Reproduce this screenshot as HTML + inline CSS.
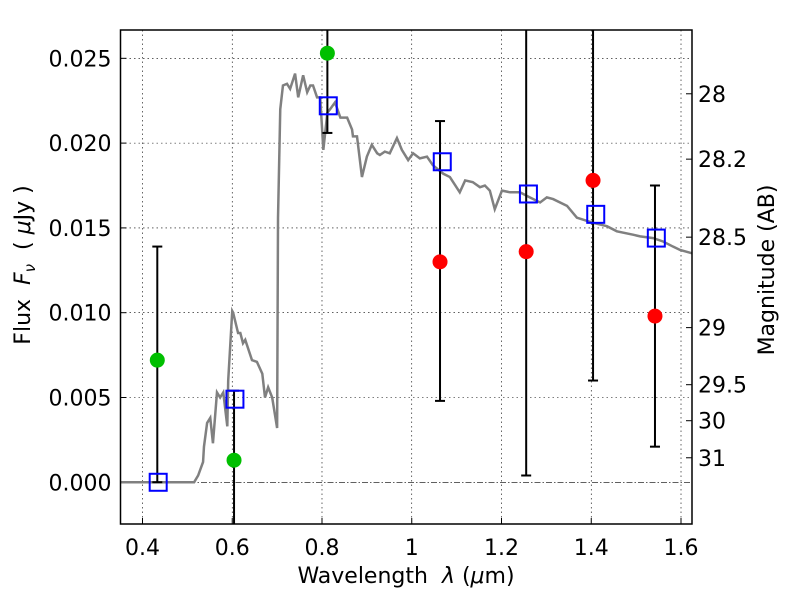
<!DOCTYPE html>
<html><head><meta charset="utf-8"><style>
body{margin:0;background:#fff}
svg text{font-family:"DejaVu Sans","Liberation Sans",sans-serif;fill:#000;white-space:pre}
</style></head><body>
<svg id="c" width="800" height="600" xmlns="http://www.w3.org/2000/svg"></svg>
<script>
const xTicks=[0.4,0.6,0.8,1.0,1.2,1.4,1.6];
const xTickLabels=["0.4","0.6","0.8","1","1.2","1.4","1.6"];
const yTicks=[0,0.005,0.01,0.015,0.02,0.025];
const yTickLabels=["0.000","0.005","0.010","0.015","0.020","0.025"];
const magTicks=[28,28.2,28.5,29,29.5,30,31];
const magTickLabels=["28","28.2","28.5","29","29.5","30","31"];
const specWave=[0.352,0.515,0.524,0.535,0.537,0.544,0.551,0.557,0.566,0.573,0.580,0.589,0.591,0.600,0.602,0.613,0.618,0.624,0.629,0.644,0.655,0.667,0.673,0.680,0.689,0.700,0.702,0.707,0.713,0.722,0.729,0.740,0.747,0.758,0.767,0.774,0.780,0.789,0.796,0.803,0.812,0.818,0.829,0.841,0.856,0.867,0.869,0.878,0.889,0.900,0.911,0.923,0.929,0.940,0.951,0.967,0.978,0.992,1.003,1.018,1.034,1.047,1.070,1.085,1.107,1.119,1.136,1.152,1.163,1.174,1.185,1.201,1.219,1.241,1.263,1.286,1.301,1.315,1.346,1.368,1.404,1.435,1.457,1.493,1.509,1.538,1.560,1.582,1.598,1.625];
const specFlux=[0,0,0.0004,0.0012,0.0021,0.0035,0.0038,0.0023,0.0053,0.0050,0.0053,0.0033,0.0060,0.0101,0.0100,0.0088,0.0088,0.0082,0.0084,0.0072,0.0071,0.0064,0.0050,0.0056,0.0050,0.0032,0.0156,0.0220,0.0234,0.0235,0.0232,0.0241,0.0227,0.0240,0.0230,0.0234,0.0234,0.0227,0.0227,0.0196,0.0218,0.0220,0.0224,0.0215,0.0215,0.0208,0.0204,0.0204,0.0180,0.0192,0.0199,0.0194,0.0193,0.0195,0.0194,0.0203,0.0196,0.0190,0.0194,0.0191,0.0192,0.0187,0.0182,0.0180,0.0171,0.0178,0.0177,0.0174,0.0175,0.0172,0.0161,0.0172,0.0171,0.0171,0.0168,0.0165,0.0168,0.0167,0.0163,0.0156,0.0153,0.0151,0.0148,0.0146,0.0145,0.0144,0.0142,0.0139,0.0137,0.0135];
const modelWave=[0.435,0.606,0.814,1.068,1.26,1.41,1.545];
const modelFlux=[0,0.0049,0.0222,0.0189,0.0170,0.0158,0.0144];
const obsWave=[0.433,0.604,0.812,1.063,1.255,1.404,1.542];
const obsFlux=[0.0072,0.0013,0.0253,0.0130,0.0136,0.0178,0.0098];
const obsColor=["#00bf00","#00bf00","#00bf00","red","red","red","red"];
const errLow=[0,-0.004,0.0206,0.0048,0.0004,0.0060,0.0021];
const errHigh=[0.0139,0.0054,0.030,0.0213,0.030,0.030,0.0175];
const errCapLow=[true,false,true,true,true,true,true];
const errCapHigh=[true,true,false,true,false,false,true];

const L=120.5,R=692,T=30,B=524,xmin=0.351,xmax=1.6245,ymin=-0.00246,ymax=0.02667;
const X=v=>L+(v-xmin)/(xmax-xmin)*(R-L);
const Y=v=>B-(v-ymin)/(ymax-ymin)*(B-T);
const magToFlux=m=>Math.pow(10,(23.9-m)/2.5);
const svg=document.getElementById('c');
const NS="http://www.w3.org/2000/svg";
function mk(tag,attrs,parent){const e=document.createElementNS(NS,tag);for(const k in attrs)e.setAttribute(k,attrs[k]);(parent||svg).appendChild(e);return e;}

const defs=mk('defs',{});const cp=mk('clipPath',{id:'pc'},defs);mk('rect',{x:L,y:T,width:R-L,height:B-T},cp);

xTicks.forEach((t,i)=>{
 const g=mk('line',{x1:X(t),x2:X(t),y1:T,y2:B,stroke:'#000','stroke-width':0.6,'stroke-dasharray':'1.5,3'});
 
 const tk=mk('line',{x1:X(t),x2:X(t),y1:B,y2:B-6,stroke:'#000'});
 
 const tx=mk('text',{x:X(t),y:B+31,'font-size':22,'text-anchor':'middle'});tx.textContent=xTickLabels[i];
 
});
yTicks.forEach((t,i)=>{
 const g=mk('line',{x1:L,x2:R,y1:Y(t),y2:Y(t),stroke:'#000','stroke-width':0.6,'stroke-dasharray':t===0?'6,2,1.5,2':'1.5,3'});
 
 const tk=mk('line',{x1:L,x2:L+6,y1:Y(t),y2:Y(t),stroke:'#000'});
 
 const tx=mk('text',{x:L-9,y:Y(t)+8,'font-size':22,'text-anchor':'end'});tx.textContent=yTickLabels[i];
 
});
magTicks.forEach((m,i)=>{
 const y=Y(magToFlux(m));
 const tk=mk('line',{x1:R,x2:R-6,y1:y,y2:y,stroke:'#000'});
 
 const tx=mk('text',{x:R+6,y:y+8,'font-size':22});tx.textContent=magTickLabels[i];
 
});

const spec=mk('polyline',{points:specWave.map((w,i)=>X(w)+','+Y(specFlux[i])).join(' '),fill:'none',stroke:'#808080','stroke-width':2.5,'clip-path':'url(#pc)'});


obsWave.forEach((w,i)=>{
 const g=mk('g',{'clip-path':'url(#pc)'});
 
 const x=X(w);
 mk('line',{x1:x,x2:x,y1:Y(errLow[i]),y2:Y(errHigh[i]),stroke:'#000','stroke-width':2},g);
 if(errCapLow[i])mk('line',{x1:x-5,x2:x+5,y1:Y(errLow[i]),y2:Y(errLow[i]),stroke:'#000','stroke-width':2},g);
 if(errCapHigh[i])mk('line',{x1:x-5,x2:x+5,y1:Y(errHigh[i]),y2:Y(errHigh[i]),stroke:'#000','stroke-width':2},g);
});
obsWave.forEach((w,i)=>{
 const c=mk('circle',{cx:X(w),cy:Y(obsFlux[i]),r:7.5,fill:obsColor[i]});
 
});
modelWave.forEach((w,i)=>{
 const s=mk('rect',{x:X(w)-8.5,y:Y(modelFlux[i])-8.5,width:17,height:17,fill:'none',stroke:'#0000ff','stroke-width':2});
 
});

const fr=mk('rect',{x:L,y:T,width:R-L,height:B-T,fill:'none',stroke:'#000','stroke-width':1.5});


const xl=mk('text',{x:406,y:583,'font-size':22,'text-anchor':'middle'});
xl.innerHTML='Wavelength  <tspan font-style="italic">λ</tspan> (<tspan font-style="italic">μ</tspan>m)';

const yl=mk('text',{x:0,y:0,'font-size':22,'text-anchor':'middle',transform:'translate(30,265) rotate(-90)'});
yl.innerHTML='Flux  <tspan font-style="italic">F</tspan><tspan font-style="italic" font-size="15" dy="5">ν</tspan><tspan dy="-5">  ( </tspan><tspan font-style="italic">μ</tspan>Jy )';

const rl=mk('text',{x:0,y:0,'font-size':22,'text-anchor':'middle',transform:'translate(774,270) rotate(-90)'});
rl.textContent='Magnitude (AB)';

</script>
</body></html>
